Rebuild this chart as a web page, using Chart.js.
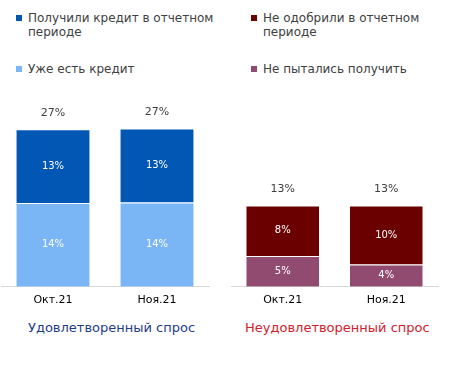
<!DOCTYPE html>
<html>
<head>
<meta charset="utf-8">
<script src="https://cdn.jsdelivr.net/npm/chart.js@4"></script>
<style>
  body { margin: 0; width: 449px; height: 365px; background: #fff; position: relative; overflow: hidden; font-family: "DejaVu Sans", sans-serif; }
  .box { position: absolute; }
  .lg { position: absolute; font-size: 12px; line-height: 14px; color: #404040; }
  .lg i { position: absolute; left: -12px; top: 4px; width: 6px; height: 6px; }
  .title { position: absolute; font-size: 13px; white-space: nowrap; }
</style>
</head>
<body>
<div class="lg" style="left:28px; top:11px; width:200px;"><i style="background:#0257B5"></i>Получили кредит в отчетном периоде</div>
<div class="lg" style="left:28px; top:62px;"><i style="background:#7AB6F5"></i>Уже есть кредит</div>
<div class="lg" style="left:263px; top:11px; width:190px;"><i style="background:#6B0000"></i>Не одобрили в отчетном периоде</div>
<div class="lg" style="left:263px; top:62px;"><i style="background:#924B70"></i>Не пытались получить</div>

<div class="box" style="left:0; top:95px; width:225px; height:222px;"><canvas id="chartLeft"></canvas></div>
<div class="box" style="left:225px; top:95px; width:224px; height:222px;"><canvas id="chartRight"></canvas></div>

<div class="title" style="left:28px; top:320px; color:#1F3C88;">Удовлетворенный спрос</div>
<div class="title" style="left:245px; top:320px; color:#D4202C;">Неудовлетворенный спрос</div>

<script>
const months = ['Окт.21', 'Ноя.21'];

// удовлетворенный спрос, %
const hasCredit = [14.3, 14.4];
const gotCredit = [12.6, 12.6];

// неудовлетворенный спрос, %
const didNotTry = [5.0, 3.6];
const refused = [8.2, 9.6];

const pct = v => Math.round(v) + '%';

const labelsPlugin = {
  id: 'barLabels',
  afterDatasetsDraw(chart) {
    const ctx = chart.ctx;
    ctx.save();
    ctx.textAlign = 'center';
    ctx.textBaseline = 'middle';
    const sets = chart.data.datasets;
    sets.forEach((ds, i) => {
      const meta = chart.getDatasetMeta(i);
      meta.data.forEach((bar, j) => {
        ctx.fillStyle = '#fff';
        ctx.font = '10px "DejaVu Sans"';
        ctx.fillText(pct(ds.data[j]), bar.x, (bar.y + bar.base) / 2);
      });
    });
    const top = chart.getDatasetMeta(sets.length - 1);
    top.data.forEach((bar, j) => {
      const total = sets.reduce((acc, ds) => acc + ds.data[j], 0);
      ctx.fillStyle = '#404040';
      ctx.font = '11px "DejaVu Sans"';
      ctx.fillText(pct(total), bar.x, bar.y - 16);
    });
    ctx.restore();
  }
};

function makeChart(id, lower, upper, colors, yMax, pad) {
  new Chart(document.getElementById(id), {
    type: 'bar',
    data: {
      labels: months,
      datasets: [
        { data: lower, backgroundColor: colors[0], borderColor: 'rgba(255,255,255,0.5)', borderWidth: 1 },
        { data: upper, backgroundColor: colors[1], borderColor: 'rgba(255,255,255,0.5)', borderWidth: 1 }
      ]
    },
    options: {
      responsive: true,
      maintainAspectRatio: false,
      animation: false,
      layout: { padding: pad },
      plugins: { legend: { display: false }, tooltip: { enabled: false } },
      scales: {
        x: {
          stacked: true,
          categoryPercentage: 1,
          barPercentage: 0.667,
          grid: { display: false, drawTicks: false },
          border: { color: '#D9D9D9', width: 1 },
          ticks: { color: '#000', font: { family: 'DejaVu Sans', size: 11 }, padding: 7 }
        },
        y: { stacked: true, display: false, min: 0, max: yMax }
      }
    },
    plugins: [labelsPlugin]
  });
}

makeChart('chartLeft', hasCredit, gotCredit, ['#7AB6F5', '#0257B5'], 30, { left: 1, right: 16, top: 16, bottom: 3 });
makeChart('chartRight', didNotTry, refused, ['#924B70', '#6B0000'], 28.5, { left: 6, right: 11, top: 16, bottom: 3 });
</script>
</body>
</html>
